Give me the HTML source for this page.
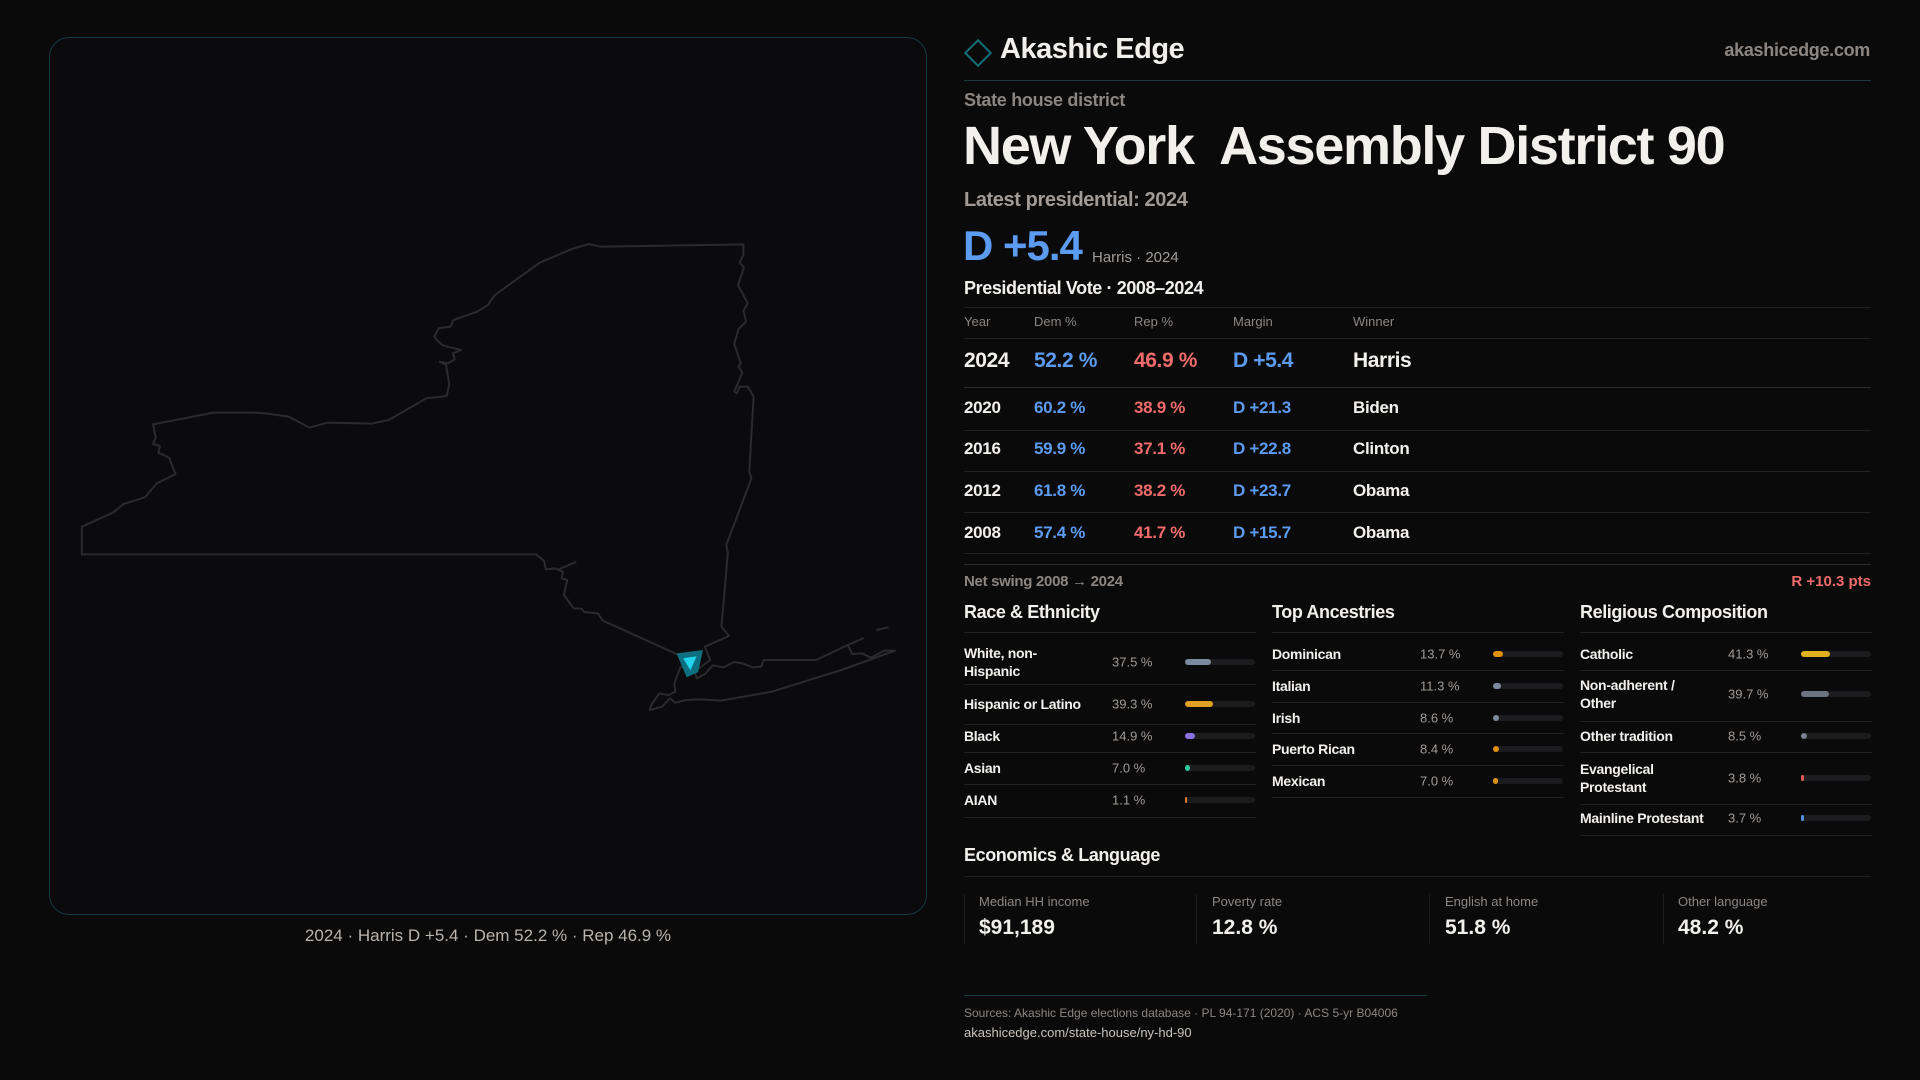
<!DOCTYPE html>
<html><head><meta charset="utf-8"><style>
*{margin:0;padding:0;box-sizing:border-box}
body{width:1920px;height:1080px;background:#0b0a0b;font-family:"Liberation Sans",sans-serif;color:#f2f0ed;position:relative;overflow:hidden}
.a{position:absolute;white-space:nowrap}
.g{color:#8b8682}
.b{color:#5b9bf0}.r{color:#f06b6b}
.hl{position:absolute;height:1px;background:#222123}
.lab{position:absolute;font-size:14px;font-weight:bold;line-height:18px;transform:translateY(-50%);color:#f2f0ed;letter-spacing:-0.3px}
.pct{position:absolute;font-size:13px;color:#a09b96;transform:translateY(-50%)}
.trk{position:absolute;width:70px;height:6px;border-radius:3px;background:#1c1c1e;margin-top:-3px}
.trk i{display:block;height:6px;border-radius:3px}
.sh{position:absolute;font-size:18px;font-weight:bold;letter-spacing:-0.4px}
</style></head><body>
<div style="position:absolute;left:49px;top:37px;width:878px;height:878px;border:1px solid #123a40;border-radius:20px;background:#0b0a0c"></div>
<svg style="position:absolute;left:70px;top:230px" width="840" height="500" viewBox="0 0 1568 1500" preserveAspectRatio="none">
<g fill="none" stroke="#2b2a2c" stroke-width="2" vector-effect="non-scaling-stroke" stroke-linejoin="round">
<polygon vector-effect="non-scaling-stroke" points="22,890 80,848 100,822 140,802 162,760 197,732 185,683 165,668 168,648 155,642 160,622 155,583 268,548 345,548 370,551 408,560 447,593 480,578 563,581 595,570 665,505 703,498 708,463 702,405 690,395 705,400 718,388 715,370 730,360 705,350 695,345 685,330 680,320 688,295 710,290 716,270 760,245 780,225 793,195 877,98 940,55 970,42 990,50 1257,43 1257,75 1250,98 1258,112 1247,165 1265,220 1257,242 1262,275 1248,297 1240,342 1252,400 1248,410 1255,428 1240,485 1245,490 1250,470 1265,470 1276,500 1268,725 1272,745 1225,945 1228,970 1216,1190 1230,1218 1185,1250 1195,1290 1170,1320 1160,1330 1145,1300 1143,1280 995,1172 985,1150 960,1146 955,1136 940,1135 922,1095 928,1050 918,1045 920,1025 905,1015 888,1018 885,993 870,973 22,973"/>
<polygon vector-effect="non-scaling-stroke" points="1140,1310 1128,1360 1130,1385 1118,1395 1100,1390 1085,1425 1082,1440 1105,1430 1120,1405 1130,1418 1150,1410 1175,1408 1215,1412 1310,1385 1440,1320 1540,1262 1520,1262 1495,1283 1478,1270 1460,1272 1452,1245 1480,1225 1448,1248 1393,1290 1295,1290 1290,1310 1275,1312 1255,1300 1240,1296 1220,1312 1200,1306 1185,1332 1170,1345 1165,1320"/>
<polyline vector-effect="non-scaling-stroke" points="910,1020 945,995"/>
<polyline vector-effect="non-scaling-stroke" points="1505,1200 1528,1192"/>
</g>
<polygon points="1143,1280 1172,1274 1166,1318 1155,1326" fill="#0e6f80" stroke="#0e6f80" stroke-width="8" vector-effect="non-scaling-stroke"/>
<polygon points="1146,1286 1168,1281 1158,1318" fill="#22d3ee" stroke="#22d3ee" stroke-width="1" vector-effect="non-scaling-stroke"/>
</svg>
<div class="a" style="left:0;width:976px;text-align:center;top:926px;font-size:17px;color:#b8b3ad">2024 · Harris D +5.4 · Dem 52.2 % · Rep 46.9 %</div>

<div class="a" style="left:968px;top:43px;width:20px;height:20px;border:2px solid #136f7a;transform:rotate(45deg)"></div>
<div class="a" style="left:1000px;top:33px;font-size:29px;font-weight:bold;letter-spacing:-0.5px">Akashic Edge</div>
<div class="a g" style="right:50px;top:40px;font-size:18px;font-weight:bold;letter-spacing:-0.3px">akashicedge.com</div>
<div class="hl" style="left:964px;width:907px;top:80px;background:#1d3a3e"></div>
<div class="a g" style="left:964px;top:90px;font-size:18px;font-weight:bold;letter-spacing:-0.3px">State house district</div>
<div class="a" style="left:963px;top:115px;font-size:54px;font-weight:bold;letter-spacing:-1.3px">New York&nbsp; Assembly District 90</div>
<div class="a" style="left:964px;top:189px;font-size:20px;font-weight:bold;color:#a09b96;letter-spacing:-0.4px">Latest presidential: 2024</div>
<div class="a b" style="left:963px;top:222px;font-size:42px;font-weight:bold;letter-spacing:-1px">D +5.4</div>
<div class="a" style="left:1092px;top:249px;font-size:15px;color:#a09b96">Harris · 2024</div>
<div class="a" style="left:964px;top:278px;font-size:18px;font-weight:bold;letter-spacing:-0.4px">Presidential Vote · 2008–2024</div>
<div class="hl" style="left:964px;width:907px;top:307px"></div>
<div class="a g" style="left:964px;top:314px;font-size:13px">Year</div>
<div class="a g" style="left:1034px;top:314px;font-size:13px">Dem %</div>
<div class="a g" style="left:1134px;top:314px;font-size:13px">Rep %</div>
<div class="a g" style="left:1233px;top:314px;font-size:13px">Margin</div>
<div class="a g" style="left:1353px;top:314px;font-size:13px">Winner</div>
<div class="hl" style="left:964px;width:907px;top:338px"></div>
<div style="position:absolute;left:964px;top:349px;font-size:21px;font-weight:bold;letter-spacing:-0.4px">
<span class="a" style="left:0">2024</span><span class="a b" style="left:70px">52.2 %</span><span class="a r" style="left:170px">46.9 %</span><span class="a b" style="left:269px">D +5.4</span><span class="a" style="left:389px">Harris</span></div>
<div class="hl" style="left:964px;width:907px;top:387px;background:#2c2b2d"></div>
<div style="position:absolute;left:964px;top:398px;font-size:17px;font-weight:bold;letter-spacing:-0.3px">
<span class="a" style="left:0">2020</span><span class="a b" style="left:70px">60.2 %</span><span class="a r" style="left:170px">38.9 %</span><span class="a b" style="left:269px">D +21.3</span><span class="a" style="left:389px">Biden</span></div>
<div class="hl" style="left:964px;width:907px;top:430px"></div>
<div style="position:absolute;left:964px;top:439px;font-size:17px;font-weight:bold;letter-spacing:-0.3px">
<span class="a" style="left:0">2016</span><span class="a b" style="left:70px">59.9 %</span><span class="a r" style="left:170px">37.1 %</span><span class="a b" style="left:269px">D +22.8</span><span class="a" style="left:389px">Clinton</span></div>
<div class="hl" style="left:964px;width:907px;top:471px"></div>
<div style="position:absolute;left:964px;top:481px;font-size:17px;font-weight:bold;letter-spacing:-0.3px">
<span class="a" style="left:0">2012</span><span class="a b" style="left:70px">61.8 %</span><span class="a r" style="left:170px">38.2 %</span><span class="a b" style="left:269px">D +23.7</span><span class="a" style="left:389px">Obama</span></div>
<div class="hl" style="left:964px;width:907px;top:512px"></div>
<div style="position:absolute;left:964px;top:523px;font-size:17px;font-weight:bold;letter-spacing:-0.3px">
<span class="a" style="left:0">2008</span><span class="a b" style="left:70px">57.4 %</span><span class="a r" style="left:170px">41.7 %</span><span class="a b" style="left:269px">D +15.7</span><span class="a" style="left:389px">Obama</span></div>
<div class="hl" style="left:964px;width:907px;top:553px"></div>
<div class="hl" style="left:964px;width:907px;top:564px;background:#2c2b2d"></div>
<div class="a g" style="left:964px;top:573px;font-size:15px;font-weight:bold;letter-spacing:-0.3px">Net swing 2008 → 2024</div>
<div class="a r" style="right:49px;top:573px;font-size:15px;font-weight:bold">R +10.3 pts</div>

<div class="sh" style="left:964px;top:602px">Race &amp; Ethnicity</div>
<div class="sh" style="left:1272px;top:602px">Top Ancestries</div>
<div class="sh" style="left:1580px;top:602px">Religious Composition</div>
<div class="hl" style="left:964px;width:292px;top:632px"></div>
<div class="hl" style="left:1272px;width:292px;top:632px"></div>
<div class="hl" style="left:1580px;width:292px;top:632px"></div>

<div class="lab" style="left:964px;top:662px">White, non-<br>Hispanic</div><div class="pct" style="left:1112px;top:662px">37.5 %</div><div class="trk" style="left:1185px;top:662px"><i style="width:26px;background:#7c8aa0"></i></div>
<div class="hl" style="left:964px;width:292px;top:684px"></div>
<div class="lab" style="left:964px;top:704px">Hispanic or Latino</div><div class="pct" style="left:1112px;top:704px">39.3 %</div><div class="trk" style="left:1185px;top:704px"><i style="width:28px;background:#e0a020"></i></div>
<div class="hl" style="left:964px;width:292px;top:724px"></div>
<div class="lab" style="left:964px;top:736px">Black</div><div class="pct" style="left:1112px;top:736px">14.9 %</div><div class="trk" style="left:1185px;top:736px"><i style="width:10px;background:#8a6fe0"></i></div>
<div class="hl" style="left:964px;width:292px;top:752px"></div>
<div class="lab" style="left:964px;top:768px">Asian</div><div class="pct" style="left:1112px;top:768px">7.0 %</div><div class="trk" style="left:1185px;top:768px"><i style="width:5px;background:#2fc59a"></i></div>
<div class="hl" style="left:964px;width:292px;top:784px"></div>
<div class="lab" style="left:964px;top:800px">AIAN</div><div class="pct" style="left:1112px;top:800px">1.1 %</div><div class="trk" style="left:1185px;top:800px"><i style="width:2px;background:#e07a30"></i></div>
<div class="hl" style="left:964px;width:292px;top:817px"></div>

<div class="lab" style="left:1272px;top:654px">Dominican</div><div class="pct" style="left:1420px;top:654px">13.7 %</div><div class="trk" style="left:1493px;top:654px"><i style="width:10px;background:#e0900f"></i></div>
<div class="hl" style="left:1272px;width:292px;top:670px"></div>
<div class="lab" style="left:1272px;top:686px">Italian</div><div class="pct" style="left:1420px;top:686px">11.3 %</div><div class="trk" style="left:1493px;top:686px"><i style="width:8px;background:#7c8aa0"></i></div>
<div class="hl" style="left:1272px;width:292px;top:702px"></div>
<div class="lab" style="left:1272px;top:718px">Irish</div><div class="pct" style="left:1420px;top:718px">8.6 %</div><div class="trk" style="left:1493px;top:718px"><i style="width:6px;background:#7c8aa0"></i></div>
<div class="hl" style="left:1272px;width:292px;top:733px"></div>
<div class="lab" style="left:1272px;top:749px">Puerto Rican</div><div class="pct" style="left:1420px;top:749px">8.4 %</div><div class="trk" style="left:1493px;top:749px"><i style="width:6px;background:#e0900f"></i></div>
<div class="hl" style="left:1272px;width:292px;top:765px"></div>
<div class="lab" style="left:1272px;top:781px">Mexican</div><div class="pct" style="left:1420px;top:781px">7.0 %</div><div class="trk" style="left:1493px;top:781px"><i style="width:5px;background:#e0900f"></i></div>
<div class="hl" style="left:1272px;width:292px;top:797px"></div>

<div class="lab" style="left:1580px;top:654px">Catholic</div><div class="pct" style="left:1728px;top:654px">41.3 %</div><div class="trk" style="left:1801px;top:654px"><i style="width:29px;background:#e0b020"></i></div>
<div class="hl" style="left:1580px;width:292px;top:670px"></div>
<div class="lab" style="left:1580px;top:694px">Non-adherent /<br>Other</div><div class="pct" style="left:1728px;top:694px">39.7 %</div><div class="trk" style="left:1801px;top:694px"><i style="width:28px;background:#6b7280"></i></div>
<div class="hl" style="left:1580px;width:292px;top:721px"></div>
<div class="lab" style="left:1580px;top:736px">Other tradition</div><div class="pct" style="left:1728px;top:736px">8.5 %</div><div class="trk" style="left:1801px;top:736px"><i style="width:6px;background:#7c8290"></i></div>
<div class="hl" style="left:1580px;width:292px;top:752px"></div>
<div class="lab" style="left:1580px;top:778px">Evangelical<br>Protestant</div><div class="pct" style="left:1728px;top:778px">3.8 %</div><div class="trk" style="left:1801px;top:778px"><i style="width:3px;background:#e05a5a"></i></div>
<div class="hl" style="left:1580px;width:292px;top:804px"></div>
<div class="lab" style="left:1580px;top:818px">Mainline Protestant</div><div class="pct" style="left:1728px;top:818px">3.7 %</div><div class="trk" style="left:1801px;top:818px"><i style="width:3px;background:#4f8fe0"></i></div>
<div class="hl" style="left:1580px;width:292px;top:835px"></div>

<div class="sh" style="left:964px;top:845px">Economics &amp; Language</div>
<div class="hl" style="left:964px;width:907px;top:876px"></div>
<div style="position:absolute;left:964px;top:894px;width:1px;height:50px;background:#1c1c1e"></div>
<div style="position:absolute;left:1196px;top:894px;width:1px;height:50px;background:#1c1c1e"></div>
<div style="position:absolute;left:1429px;top:894px;width:1px;height:50px;background:#1c1c1e"></div>
<div style="position:absolute;left:1663px;top:894px;width:1px;height:50px;background:#1c1c1e"></div>
<div class="a g" style="left:979px;top:894px;font-size:13px">Median HH income</div>
<div class="a" style="left:979px;top:916px;font-size:21px;font-weight:bold">$91,189</div>
<div class="a g" style="left:1212px;top:894px;font-size:13px">Poverty rate</div>
<div class="a" style="left:1212px;top:916px;font-size:21px;font-weight:bold">12.8 %</div>
<div class="a g" style="left:1445px;top:894px;font-size:13px">English at home</div>
<div class="a" style="left:1445px;top:916px;font-size:21px;font-weight:bold">51.8 %</div>
<div class="a g" style="left:1678px;top:894px;font-size:13px">Other language</div>
<div class="a" style="left:1678px;top:916px;font-size:21px;font-weight:bold">48.2 %</div>

<div class="hl" style="left:964px;width:463px;top:995px;background:#163a40"></div>
<div class="a g" style="left:964px;top:1006px;font-size:12px">Sources: Akashic Edge elections database · PL 94-171 (2020) · ACS 5-yr B04006</div>
<div class="a" style="left:964px;top:1025px;font-size:13px;color:#c8c3bd">akashicedge.com/state-house/ny-hd-90</div>
</body></html>
